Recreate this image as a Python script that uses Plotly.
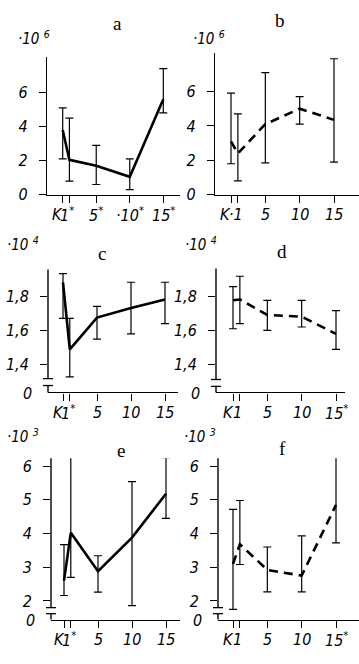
import plotly.graph_objects as go

W, H = 359, 664

# ---------------- data ----------------
x_vals = [0, 1, 5, 10, 15]

a_mean = [3.8, 2.05, 1.7, 1.05, 5.6]
a_lo = [2.1, 0.8, 0.6, 0.3, 4.8]
a_hi = [5.1, 4.5, 2.9, 2.1, 7.4]

b_mean = [3.1, 2.4, 4.1, 5.0, 4.35]
b_lo = [1.8, 0.8, 1.85, 4.1, 1.9]
b_hi = [5.9, 4.7, 7.1, 5.7, 7.9]

c_mean = [1.88, 1.49, 1.675, 1.73, 1.78]
c_lo = [1.67, 1.33, 1.55, 1.58, 1.64]
c_hi = [1.93, 1.67, 1.74, 1.88, 1.88]

d_mean = [1.775, 1.78, 1.69, 1.68, 1.58]
d_lo = [1.61, 1.64, 1.60, 1.62, 1.49]
d_hi = [1.855, 1.915, 1.775, 1.775, 1.715]

e_mean = [2.6, 4.02, 2.88, 3.88, 5.18]
e_lo = [2.16, 2.7, 2.26, 1.86, 4.45]
e_hi = [3.67, 6.57, 3.34, 5.54, 6.25]

f_mean = [3.1, 3.68, 2.92, 2.75, 4.85]
f_lo = [1.75, 3.08, 2.27, 2.27, 3.72]
f_hi = [4.72, 4.98, 3.6, 3.93, 6.45]

a_xlabels = ["K", "1<sup>*</sup>", "5<sup>*</sup>", "·10<sup>*</sup>", "15<sup>*</sup>"]
b_xlabels = ["K", "·1", "5", "10", "15"]
c_xlabels = ["K", "1<sup>*</sup>", "5", "10", "15"]
d_xlabels = ["K", "1", "5", "10", "15<sup>*</sup>"]
e_xlabels = ["K", "1<sup>*</sup>", "5", "10", "15"]
f_xlabels = ["K", "1", "5", "10", "15<sup>*</sup>"]

y_ticks_ab = [2, 4, 6]
y_text_ab = ["2", "4", "6"]
y_ticks_cd = [1.4, 1.6, 1.8]
y_text_cd = ["1,4", "1,6", "1,8"]
y_ticks_ef = [2, 3, 4, 5, 6]
y_text_ef = ["2", "3", "4", "5", "6"]

titles = ["a", "b", "c", "d", "e", "f"]
multipliers = ["·10 <sup>6</sup>", "·10 <sup>6</sup>", "·10 <sup>4</sup>",
               "·10 <sup>4</sup>", "·10 <sup>3</sup>", "·10 <sup>3</sup>"]

# ---------------- layout config (pixel calibration) ----------------
panels = [
    dict(mean=a_mean, lo=a_lo, hi=a_hi, xl=a_xlabels, yt=y_ticks_ab, ytt=y_text_ab, dash="solid",
         xcal=((0, 62.7), (15, 163.3)), xpx=(47, 180), ycal=((0, 197), (6, 93)), ypx=(57, 197),
         brk=None, title=(117, 23), mult=(16, 50)),
    dict(mean=b_mean, lo=b_lo, hi=b_hi, xl=b_xlabels, yt=y_ticks_ab, ytt=y_text_ab, dash="9px,6px",
         xcal=((0, 231), (15, 334)), xpx=(215, 359), ycal=((0, 197), (6, 92)), ypx=(53, 197),
         brk=None, title=(280, 20), mult=(191, 50)),
    dict(mean=c_mean, lo=c_lo, hi=c_hi, xl=c_xlabels, yt=y_ticks_cd, ytt=y_text_cd, dash="solid",
         xcal=((0, 63), (15, 165)), xpx=(48, 178), ycal=((1.4, 370), (1.8, 300)), ypx=(273, 398),
         brk=(1.28, 1.32), title=(102, 257), mult=(5, 259)),
    dict(mean=d_mean, lo=d_lo, hi=d_hi, xl=d_xlabels, yt=y_ticks_cd, ytt=y_text_cd, dash="9px,6px",
         xcal=((0, 233), (15, 336)), xpx=(216, 345), ycal=((1.4, 370), (1.8, 300)), ypx=(272, 398),
         brk=(1.275, 1.315), title=(282, 255), mult=(183, 259)),
    dict(mean=e_mean, lo=e_lo, hi=e_hi, xl=e_xlabels, yt=y_ticks_ef, ytt=y_text_ef, dash="solid",
         xcal=((0, 64), (15, 166)), xpx=(51, 180), ycal=((2, 610), (6, 473)), ypx=(465, 629),
         brk=(1.62, 1.80), title=(121, 457), mult=(5, 455)),
    dict(mean=f_mean, lo=f_lo, hi=f_hi, xl=f_xlabels, yt=y_ticks_ef, ytt=y_text_ef, dash="9px,6px",
         xcal=((0, 233), (15, 336)), xpx=(218, 359), ycal=((2, 610), (6, 473)), ypx=(465, 629),
         brk=(1.62, 1.80), title=(282, 455), mult=(182, 455)),
]

SANS = "Liberation Sans Narrow, DejaVu Sans Condensed, Liberation Sans, Arial"
SERIF = "Liberation Serif, Times New Roman, serif"
AXC = dict(color="black", width=1.4)

fig = go.Figure()
layout = dict(width=W, height=H, margin=dict(l=0, r=0, t=0, b=0),
              paper_bgcolor="white", plot_bgcolor="white", showlegend=False)
annotations = []
shapes = []

for i, p in enumerate(panels):
    n = "" if i == 0 else str(i + 1)
    (v0, p0), (v1, p1) = p["xcal"]
    sx = (p1 - p0) / (v1 - v0)
    xr = [v0 + (p["xpx"][0] - p0) / sx, v0 + (p["xpx"][1] - p0) / sx]
    xd = [p["xpx"][0] / W, min(1.0, p["xpx"][1] / W)]
    (u0, q0), (u1, q1) = p["ycal"]
    sy = (q1 - q0) / (u1 - u0)
    yr = [u0 + (p["ypx"][1] - q0) / sy, u0 + (p["ypx"][0] - q0) / sy]
    yd = [1 - p["ypx"][1] / H, 1 - p["ypx"][0] / H]

    def ypaper(v):
        return yd[0] + (v - yr[0]) / (yr[1] - yr[0]) * (yd[1] - yd[0])

    fig.add_trace(go.Scatter(
        x=x_vals, y=p["mean"], mode="lines",
        line=dict(color="black", width=2.6, dash=p["dash"]),
        error_y=dict(type="data", symmetric=False,
                     array=[h - m for h, m in zip(p["hi"], p["mean"])],
                     arrayminus=[m - l for m, l in zip(p["mean"], p["lo"])],
                     color="black", thickness=1.2, width=4),
        xaxis="x" + n, yaxis="y" + n, cliponaxis=False))

    broken = p["brk"] is not None
    layout["xaxis" + n] = dict(domain=xd, range=xr, anchor="y" + n, showline=True,
                               linecolor="black", linewidth=1.4, ticks="outside",
                               ticklen=7, tickwidth=1.2, tickcolor="black",
                               tickvals=x_vals, showticklabels=False,
                               showgrid=False, zeroline=False, fixedrange=True)
    layout["yaxis" + n] = dict(domain=yd, range=yr, anchor="x" + n, showline=not broken,
                               linecolor="black", linewidth=1.4, ticks="outside",
                               ticklen=7, tickwidth=1.2, tickcolor="black",
                               tickvals=([] if broken else [yr[0]]) + p["yt"],
                               ticktext=([] if broken else ["0"]) + p["ytt"],
                               tickfont=dict(family=SANS, size=16, color="black", style="italic"),
                               ticklabelstandoff=8,
                               showgrid=False, zeroline=False, fixedrange=True)

    for xv, lab in zip(x_vals, p["xl"]):
        shift = -5 if lab == "K" else (-2 if xv == 1 else 0)
        annotations.append(dict(x=xv, xref="x" + n, y=yd[0], yref="paper", text=lab,
                                showarrow=False, xanchor="center", yanchor="middle",
                                xshift=shift, yshift=-20,
                                font=dict(family=SANS, size=16, color="black", style="italic")))

    tx, ty = p["title"]
    annotations.append(dict(x=tx / W, y=1 - ty / H, xref="paper", yref="paper", text=titles[i],
                            showarrow=False, xanchor="center", yanchor="middle",
                            font=dict(family=SERIF, size=19, color="black")))
    mx, my = p["mult"]
    annotations.append(dict(x=mx / W, y=1 - my / H, xref="paper", yref="paper", text=multipliers[i],
                            showarrow=False, xanchor="left", yanchor="bottom",
                            font=dict(family=SANS, size=15, color="black", style="italic")))

    if broken:
        lo_b, hi_b = p["brk"]
        ax_x = xd[0]
        # broken y axis: upper and lower segments with short caps (paper coords, unclipped)
        shapes.append(dict(type="line", xref="paper", yref="paper",
                           x0=ax_x, x1=ax_x, y0=ypaper(hi_b), y1=yd[1], line=AXC))
        shapes.append(dict(type="line", xref="paper", yref="paper",
                           x0=ax_x, x1=ax_x, y0=yd[0], y1=ypaper(lo_b), line=AXC))
        for yb in (lo_b, hi_b):
            shapes.append(dict(type="line", xref="paper", yref="paper",
                               x0=ax_x - 5 / W, x1=ax_x + 5 / W, y0=ypaper(yb), y1=ypaper(yb),
                               line=dict(color="black", width=1.3)))
        annotations.append(dict(x=xr[0], xref="x" + n, y=yr[0], yref="y" + n, text="0",
                                showarrow=False, xanchor="right", yanchor="middle",
                                xshift=-14, yshift=-1,
                                font=dict(family=SANS, size=16, color="black", style="italic")))

layout["annotations"] = annotations
layout["shapes"] = shapes
fig.update_layout(**layout)
fig.write_html("out.html", config={"displayModeBar": False},
               post_script="document.body.style.margin='0';")
